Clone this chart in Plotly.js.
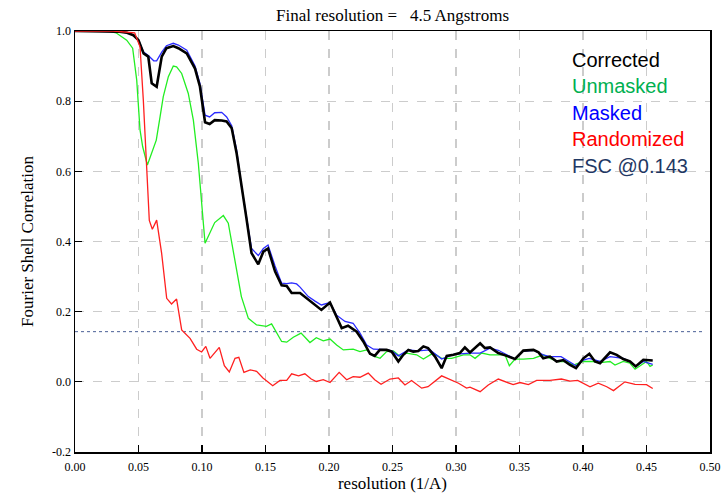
<!DOCTYPE html>
<html><head><meta charset="utf-8">
<script src="https://cdn.plot.ly/plotly-3.0.1.min.js"></script>
<style>html,body{margin:0;padding:0;background:#fff}#chart{width:723px;height:497px}</style>
</head><body><div id="chart"></div>
<script>
// ---- data ----
const xCorrected = [0, 0.02, 0.035, 0.041, 0.046, 0.05, 0.054, 0.0577, 0.0604, 0.0643, 0.0683, 0.072, 0.0774, 0.0814, 0.088, 0.0945, 0.0984, 0.1024, 0.106, 0.110, 0.1155, 0.1194, 0.1234, 0.1273, 0.131, 0.135, 0.139, 0.1443, 0.1483, 0.152, 0.1575, 0.1627, 0.1667, 0.1706, 0.1772, 0.1837, 0.189, 0.194, 0.2008, 0.206, 0.210, 0.215, 0.2218, 0.227, 0.2323, 0.236, 0.240, 0.2454, 0.2494, 0.2546, 0.2585, 0.2625, 0.2664, 0.2703, 0.2743, 0.278, 0.2835, 0.2887, 0.2927, 0.298, 0.303, 0.307, 0.311, 0.319, 0.3228, 0.3268, 0.3333, 0.34, 0.3465, 0.353, 0.361, 0.365, 0.3687, 0.374, 0.3793, 0.3845, 0.3898, 0.3945, 0.4003, 0.405, 0.4094, 0.4134, 0.4173, 0.4213, 0.4265, 0.4317, 0.437, 0.4415, 0.4475, 0.4549];
const yCorrected = [1.0, 1.0, 0.998, 0.995, 0.988, 0.974, 0.936, 0.927, 0.851, 0.841, 0.927, 0.951, 0.957, 0.951, 0.936, 0.893, 0.841, 0.740, 0.735, 0.746, 0.745, 0.742, 0.723, 0.651, 0.556, 0.466, 0.367, 0.335, 0.371, 0.380, 0.315, 0.275, 0.273, 0.253, 0.253, 0.234, 0.219, 0.205, 0.226, 0.186, 0.153, 0.160, 0.143, 0.115, 0.080, 0.074, 0.091, 0.091, 0.086, 0.058, 0.077, 0.091, 0.086, 0.088, 0.101, 0.096, 0.072, 0.039, 0.074, 0.077, 0.082, 0.098, 0.084, 0.110, 0.096, 0.098, 0.082, 0.074, 0.065, 0.089, 0.091, 0.084, 0.067, 0.072, 0.058, 0.062, 0.048, 0.039, 0.067, 0.080, 0.058, 0.053, 0.067, 0.084, 0.077, 0.065, 0.058, 0.044, 0.063, 0.061];

const xMasked = [0, 0.02, 0.035, 0.041, 0.046, 0.05, 0.054, 0.0577, 0.062, 0.0643, 0.0683, 0.072, 0.0774, 0.0814, 0.088, 0.0945, 0.0984, 0.1024, 0.106, 0.110, 0.1155, 0.1194, 0.1234, 0.1273, 0.131, 0.135, 0.139, 0.1443, 0.1483, 0.152, 0.1575, 0.1627, 0.1667, 0.1706, 0.1745, 0.1772, 0.1837, 0.189, 0.194, 0.2008, 0.206, 0.2126, 0.219, 0.2244, 0.2297, 0.235, 0.2454, 0.2494, 0.2546, 0.2625, 0.270, 0.2795, 0.2887, 0.298, 0.311, 0.319, 0.3268, 0.3333, 0.34, 0.3465, 0.353, 0.361, 0.3687, 0.374, 0.3827, 0.3898, 0.3945, 0.4003, 0.405, 0.4134, 0.4213, 0.4317, 0.437, 0.4415, 0.4475, 0.4549];
const yMasked = [1.0, 1.0, 0.998, 0.995, 0.988, 0.974, 0.940, 0.930, 0.915, 0.915, 0.940, 0.958, 0.965, 0.960, 0.945, 0.900, 0.850, 0.760, 0.755, 0.767, 0.768, 0.755, 0.730, 0.660, 0.560, 0.470, 0.380, 0.360, 0.380, 0.390, 0.330, 0.281, 0.280, 0.282, 0.279, 0.270, 0.243, 0.230, 0.219, 0.226, 0.190, 0.172, 0.167, 0.139, 0.105, 0.093, 0.092, 0.088, 0.074, 0.091, 0.088, 0.091, 0.065, 0.078, 0.082, 0.082, 0.096, 0.090, 0.077, 0.065, 0.087, 0.090, 0.077, 0.072, 0.072, 0.055, 0.046, 0.062, 0.067, 0.058, 0.072, 0.067, 0.058, 0.044, 0.058, 0.050];

const xUnmasked = [0, 0.02, 0.0276, 0.0323, 0.0407, 0.0454, 0.0486, 0.0512, 0.0533, 0.057, 0.060, 0.064, 0.067, 0.0695, 0.0735, 0.0774, 0.080, 0.084, 0.0892, 0.0932, 0.0971, 0.0997, 0.1024, 0.110, 0.1168, 0.1207, 0.1247, 0.131, 0.1365, 0.143, 0.1507, 0.1548, 0.1627, 0.1667, 0.1719, 0.178, 0.185, 0.19, 0.1955, 0.2008, 0.206, 0.2113, 0.219, 0.2244, 0.2297, 0.2349, 0.2402, 0.2454, 0.2507, 0.256, 0.261, 0.269, 0.2743, 0.282, 0.2887, 0.2966, 0.3058, 0.311, 0.315, 0.3202, 0.3268, 0.3346, 0.3386, 0.342, 0.3465, 0.353, 0.361, 0.3687, 0.374, 0.3806, 0.3871, 0.3924, 0.4003, 0.408, 0.4134, 0.4213, 0.4252, 0.4317, 0.437, 0.441, 0.4475, 0.450, 0.4528, 0.4549];
const yUnmasked = [1.0, 1.0, 0.999, 0.995, 0.974, 0.951, 0.860, 0.718, 0.670, 0.618, 0.647, 0.689, 0.756, 0.813, 0.870, 0.900, 0.898, 0.879, 0.822, 0.746, 0.623, 0.519, 0.395, 0.454, 0.474, 0.452, 0.367, 0.243, 0.181, 0.162, 0.158, 0.165, 0.115, 0.113, 0.127, 0.139, 0.112, 0.126, 0.117, 0.122, 0.105, 0.091, 0.093, 0.086, 0.091, 0.074, 0.067, 0.086, 0.088, 0.072, 0.082, 0.077, 0.065, 0.082, 0.067, 0.067, 0.077, 0.077, 0.067, 0.082, 0.077, 0.077, 0.077, 0.046, 0.065, 0.065, 0.067, 0.077, 0.067, 0.058, 0.058, 0.048, 0.058, 0.058, 0.055, 0.058, 0.048, 0.058, 0.053, 0.036, 0.053, 0.058, 0.044, 0.048];

const xRandomized = [0, 0.03, 0.047, 0.0512, 0.0538, 0.0559, 0.0585, 0.0609, 0.0643, 0.0682, 0.0722, 0.076, 0.080, 0.084, 0.0906, 0.0958, 0.0997, 0.103, 0.1063, 0.1136, 0.1176, 0.1215, 0.126, 0.129, 0.133, 0.138, 0.143, 0.148, 0.1557, 0.1614, 0.1667, 0.1706, 0.176, 0.181, 0.186, 0.19, 0.1955, 0.2008, 0.208, 0.2139, 0.219, 0.2244, 0.2309, 0.236, 0.241, 0.248, 0.2546, 0.2598, 0.265, 0.273, 0.278, 0.2887, 0.294, 0.302, 0.3083, 0.311, 0.319, 0.3254, 0.3333, 0.34, 0.345, 0.3504, 0.357, 0.3635, 0.374, 0.383, 0.3898, 0.3958, 0.4016, 0.4055, 0.412, 0.4187, 0.424, 0.433, 0.441, 0.450, 0.4549];
const yRandomized = [1.0, 1.0, 0.995, 0.955, 0.803, 0.652, 0.460, 0.435, 0.461, 0.367, 0.238, 0.222, 0.236, 0.148, 0.124, 0.093, 0.085, 0.101, 0.067, 0.098, 0.046, 0.028, 0.067, 0.070, 0.027, 0.034, 0.030, 0.011, -0.011, 0.004, 0.004, 0.023, 0.017, 0.023, 0.008, 0.001, 0.006, -0.002, 0.027, 0.006, 0.015, 0.013, 0.025, 0.006, -0.007, 0.008, 0.011, -0.009, 0.004, -0.018, -0.014, 0.017, 0.008, -0.004, -0.018, -0.015, -0.028, -0.009, 0.008, 0.000, -0.008, -0.002, -0.008, 0.004, 0.004, 0.008, 0.002, 0.004, -0.008, -0.014, -0.004, -0.014, -0.025, 0.000, -0.007, -0.008, -0.019];

const xFsc = [0, 0.495];
const yFsc = [0.143, 0.143];

const xTickVals = [0, 0.05, 0.10, 0.15, 0.20, 0.25, 0.30, 0.35, 0.40, 0.45, 0.50];
const xTickText = ['0.00','0.05','0.10','0.15','0.20','0.25','0.30','0.35','0.40','0.45','0.50'];
const yTickVals = [-0.2, 0.0, 0.2, 0.4, 0.6, 0.8, 1.0];
const yTickText = ['-0.2','0.0','0.2','0.4','0.6','0.8','1.0'];

const legendLabels = ['Corrected','Unmasked','Masked','Randomized','FSC @0.143'];
const legendColors = ['#000000','#00b050','#0000ff','#ff0000','#1f3864'];
const titleText = 'Final resolution =&nbsp;&nbsp; 4.5 Angstroms';
const xTitle = 'resolution (1/A)';
const yTitle = 'Fourier Shell Correlation';

// ---- traces ----
const traces = [
  {x: xFsc, y: yFsc, mode: 'lines', line: {color: '#4a5f96', width: 1, dash: 'dot'}, name: legendLabels[4]},
  {x: xUnmasked, y: yUnmasked, mode: 'lines', line: {color: '#22ee22', width: 1.3}, name: legendLabels[1]},
  {x: xMasked, y: yMasked, mode: 'lines', line: {color: '#2a2aff', width: 1.3}, name: legendLabels[2]},
  {x: xCorrected, y: yCorrected, mode: 'lines', line: {color: '#000000', width: 2.6}, name: legendLabels[0]},
  {x: xRandomized, y: yRandomized, mode: 'lines', line: {color: '#ff2020', width: 1.3}, name: legendLabels[3]}
];

const serif = 'Liberation Serif, Times New Roman, serif';
const annotations = legendLabels.map((t, i) => ({
  xref: 'paper', yref: 'paper', x: 0.779, y: 0.932 - i * 0.063,
  xanchor: 'left', yanchor: 'middle', showarrow: false, text: t,
  font: {family: 'Liberation Sans, Arial, sans-serif', size: 20, color: legendColors[i]}
}));

const axisCommon = {
  showline: true, linecolor: '#000', linewidth: 1.5, mirror: true,
  showgrid: true, gridcolor: '#cccccc', gridwidth: 1.3, griddash: 'dash',
  zeroline: false, ticks: 'inside', ticklen: 7, tickcolor: '#000', tickwidth: 1.2,
  tickfont: {family: serif, size: 12, color: '#000'}, tickmode: 'array'
};

const layout = {
  width: 723, height: 497,
  margin: {l: 75, r: 13, t: 31, b: 45},
  paper_bgcolor: '#fff', plot_bgcolor: '#fff',
  showlegend: false,
  title: {text: titleText, x: 0.543, xanchor: 'center', y: 0.969, yanchor: 'middle',
          font: {family: serif, size: 17, color: '#000'}},
  xaxis: Object.assign({}, axisCommon, {range: [0, 0.5], tickvals: xTickVals, ticktext: xTickText,
          ticklabelstandoff: 3,
          title: {text: xTitle, standoff: 4, font: {family: serif, size: 17, color: '#000'}}}),
  yaxis: Object.assign({}, axisCommon, {range: [-0.2, 1.0], tickvals: yTickVals, ticktext: yTickText,
          title: {text: yTitle, standoff: 14, font: {family: serif, size: 17, color: '#000'}}}),
  annotations: annotations
};

Plotly.newPlot('chart', traces, layout, {displayModeBar: false, staticPlot: true});
</script>
</body></html>
